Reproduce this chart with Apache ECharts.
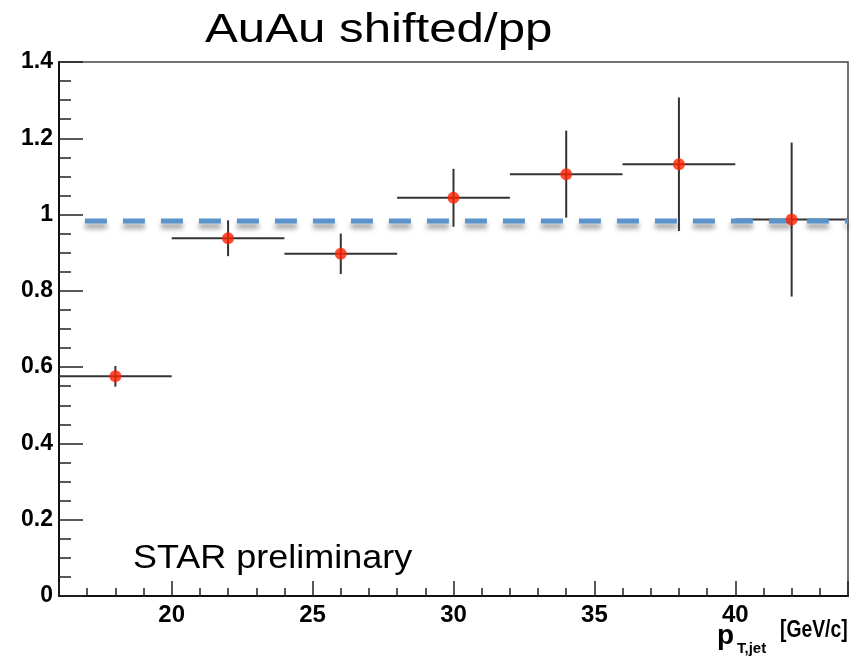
<!DOCTYPE html>
<html>
<head>
<meta charset="utf-8">
<script src="https://cdn.jsdelivr.net/npm/echarts@6/dist/echarts.min.js"></script>
<style>
  html, body { margin: 0; padding: 0; background: #fff; }
  #chart { width: 858px; height: 659px; }
</style>
</head>
<body>
<div id="chart"></div>
<script>
// bins of p_T,jet and the AuAu shifted / pp ratio
var binLo = [16, 20, 24, 28, 32, 36, 40];
var binHi = [20, 24, 28, 32, 36, 40, 44];
var binCenter = [18, 22, 26, 30, 34, 38, 42];
var ratio = [0.576, 0.938, 0.897, 1.044, 1.106, 1.132, 0.987];
var ratioErr = [0.027, 0.047, 0.053, 0.076, 0.114, 0.175, 0.202];
// dashed reference level
var refX = [16.92, 44];
var refY = 0.983;

var font = '"Liberation Sans", Arial, Helvetica, sans-serif';

var barData = [];
var pointData = [];
binCenter.forEach(function (x, i) {
    barData.push([x, ratio[i], binLo[i], binHi[i], ratio[i] - ratioErr[i], ratio[i] + ratioErr[i]]);
    pointData.push([x, ratio[i]]);
});

function renderBar(params, api) {
    var c = api.coord([api.value(0), api.value(1)]);
    var l = api.coord([api.value(2), api.value(1)]);
    var r = api.coord([api.value(3), api.value(1)]);
    var lo = api.coord([api.value(0), api.value(4)]);
    var hi = api.coord([api.value(0), api.value(5)]);
    var st = {stroke: '#333', lineWidth: 2};
    return {
        type: 'group',
        children: [
            {type: 'line', shape: {x1: l[0], y1: c[1], x2: r[0], y2: c[1]}, style: st},
            {type: 'line', shape: {x1: c[0], y1: lo[1], x2: c[0], y2: hi[1]}, style: st}
        ]
    };
}

var chart = echarts.init(document.getElementById('chart'));
chart.setOption({
    animation: false,
    backgroundColor: '#fff',
    grid: {
        left: 59, right: 10, top: 62, bottom: 63,
        show: true, borderColor: '#444', borderWidth: 1.5
    },
    xAxis: [
        {
            type: 'value', min: 16, max: 44, interval: 1,
            axisLine: {lineStyle: {color: '#111', width: 2}},
            axisTick: {inside: true, length: 8, lineStyle: {color: '#222', width: 1.5}},
            axisLabel: {
                margin: 7, color: '#000', fontFamily: font, fontWeight: 'bold', fontSize: 24,
                formatter: function (v) { return v % 5 === 0 ? String(v) : ''; }
            },
            splitLine: {show: false}
        },
        {
            type: 'value', min: 16, max: 44, position: 'bottom',
            axisLine: {show: false},
            axisTick: {inside: true, length: 15, lineStyle: {color: '#222', width: 1.5}},
            axisLabel: {show: false},
            splitLine: {show: false}
        }
    ],
    yAxis: {
        type: 'value', min: 0, max: 1.4, interval: 0.2,
        axisLine: {lineStyle: {color: '#111', width: 2}},
        axisTick: {inside: true, length: 24, lineStyle: {color: '#222', width: 1.5}},
        minorTick: {show: true, splitNumber: 4, length: 12, lineStyle: {color: '#222', width: 1.5}},
        axisLabel: {margin: 6, color: '#000', fontFamily: font, fontWeight: 'bold', fontSize: 23},
        splitLine: {show: false}
    },
    series: [
        {
            type: 'custom', z: 1, silent: true,
            renderItem: renderBar,
            data: barData
        },
        {
            type: 'line', z: 2, silent: true, symbol: 'none',
            data: [[refX[0], refY], [refX[1], refY]],
            lineStyle: {
                color: '#5b93cc', width: 5, type: [22, 16],
                shadowColor: 'rgba(0,0,0,0.4)', shadowBlur: 5, shadowOffsetY: 5
            }
        },
        {
            type: 'scatter', z: 3, silent: true,
            symbol: 'circle', symbolSize: 12,
            itemStyle: {color: '#ff2200'},
            data: pointData
        }
    ],
    graphic: [
        {
            type: 'text', x: 205, y: 10, scaleX: 1.2,
            style: {text: 'AuAu shifted/pp', fontFamily: font, fontSize: 41, fill: '#000'}
        },
        {
            type: 'text', x: 133, y: 542, scaleX: 1.09,
            style: {text: 'STAR preliminary', fontFamily: font, fontSize: 33, fill: '#000'}
        },
        {
            type: 'text', x: 717, y: 622,
            style: {text: 'p', fontFamily: font, fontWeight: 'bold', fontSize: 28, fill: '#000'}
        },
        {
            type: 'text', x: 737, y: 641,
            style: {text: 'T,jet', fontFamily: font, fontWeight: 'bold', fontSize: 15, fill: '#000'}
        },
        {
            type: 'text', x: 780, y: 619, scaleX: 0.84,
            style: {text: '[GeV/c]', fontFamily: font, fontWeight: 'bold', fontSize: 23, fill: '#000'}
        }
    ]
});
</script>
</body>
</html>
